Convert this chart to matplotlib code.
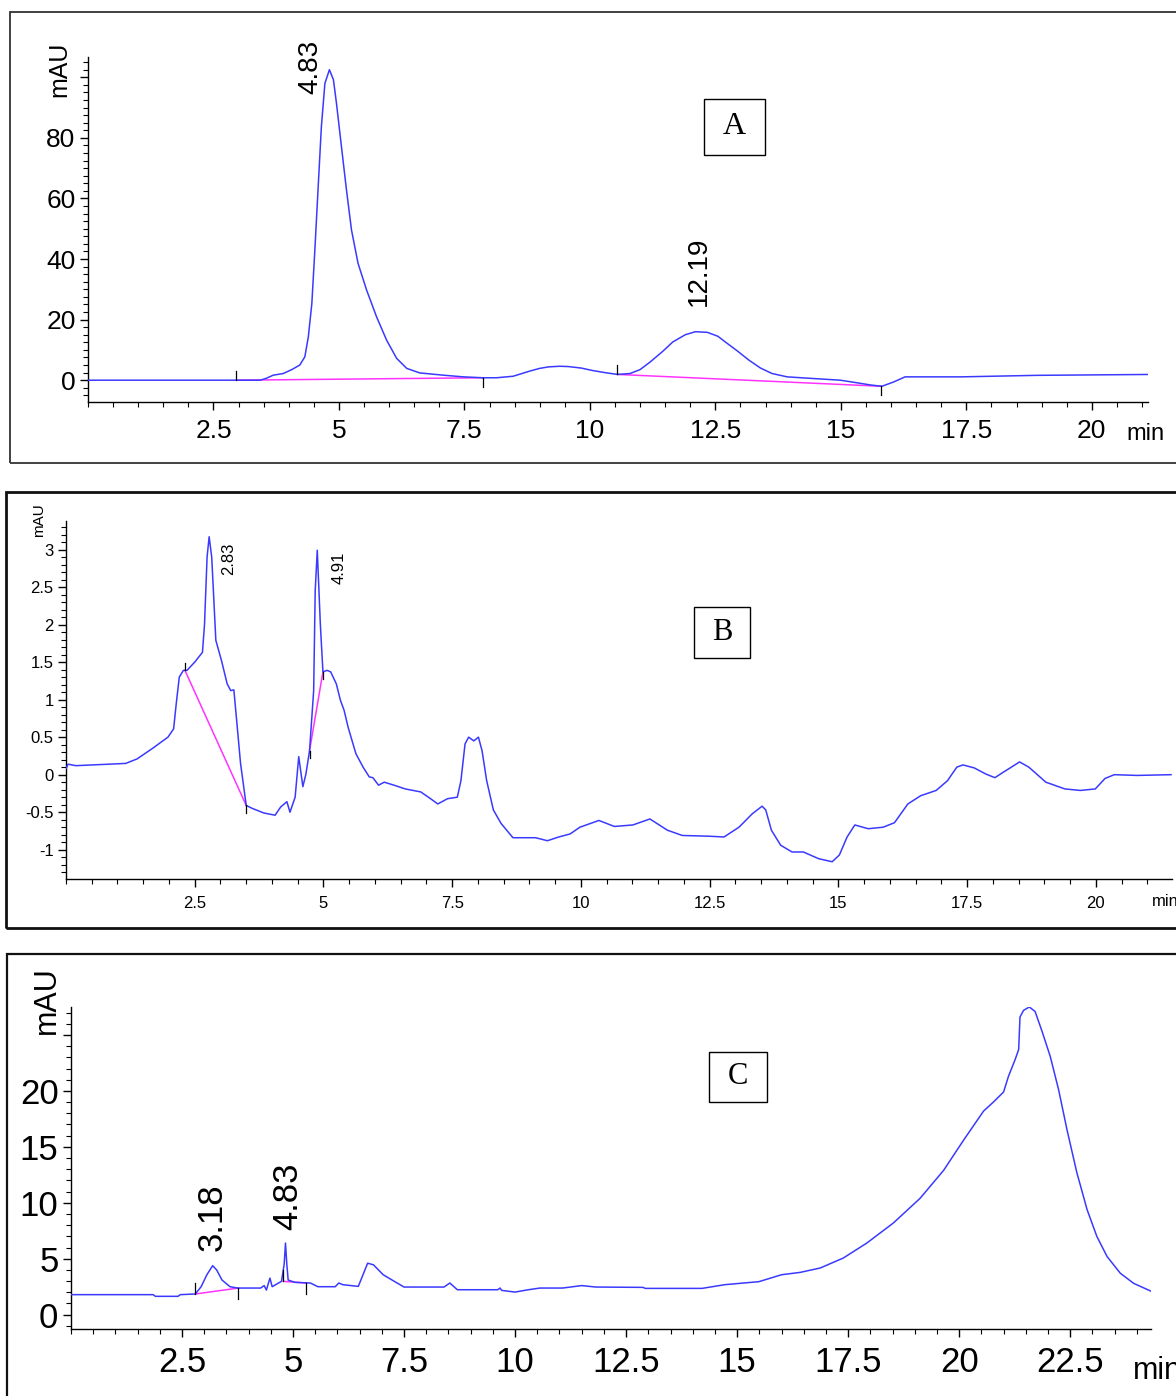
import matplotlib
matplotlib.use('Agg')
import matplotlib.pyplot as plt
import matplotlib.patches as patches
from matplotlib.ticker import MultipleLocator, FixedLocator
import numpy as np

W, H = 1176, 1396

# ---- panel A: chromatogram (min, mAU) ----
t_a = [0, 3.0, 3.43, 3.55, 3.69, 3.89, 4.06, 4.22, 4.32, 4.39, 4.46, 4.52, 4.59,
       4.65, 4.72, 4.81, 4.89, 4.95, 5.05, 5.15, 5.25, 5.38, 5.55, 5.75, 5.95,
       6.15, 6.35, 6.61, 7.08, 7.48, 7.87, 8.14, 8.47, 8.8, 9.0, 9.18, 9.4,
       9.57, 9.83, 10.05, 10.3, 10.55, 10.8, 11.0, 11.2, 11.45, 11.65, 11.9,
       12.1, 12.34, 12.55, 12.7, 12.95, 13.17, 13.4, 13.63, 13.93, 14.5, 14.99,
       15.3, 15.6, 15.82, 16.05, 16.28, 17.4, 18.9, 21.2]
y_a = [0, 0, 0, 0.6, 1.65, 2.2, 3.5, 5.0, 7.7, 14.3, 25.3, 43, 65,
       83.7, 98, 102.5, 99.2, 91.5, 77.1, 62.8, 49.6, 38.6, 29.8, 20.9, 13.2,
       7.2, 3.9, 2.4, 1.65, 1.1, 0.8, 0.8, 1.3, 3.0, 3.9, 4.4, 4.6,
       4.5, 4.0, 3.2, 2.5, 1.9, 2.2, 3.5, 6.0, 9.5, 12.6, 15.0,
       16.0, 15.8, 14.5, 12.6, 9.5, 6.6, 4.0, 2.2, 1.1, 0.5, 0,
       -0.8, -1.6, -2.0, -0.6, 1.1, 1.1, 1.6, 1.9]
ev_a_t = [2.95, 7.87, 10.55, 15.8]
ev_a_y = [0.0, 0.8, 1.9, -2.0]
ev_a_dir = [1, -1, 1, -1]
peaks_a = ['4.83', '12.19']
peak_a_pos = [(4.44, 103.5), (12.17, 36)]

# ---- panel B ----
t_b = [0, 0.04, 0.19, 1.16, 1.38, 1.68, 1.98, 2.09, 2.14, 2.2, 2.28, 2.35, 2.5,
       2.65, 2.69, 2.74, 2.78, 2.83, 2.91, 3.02, 3.13, 3.2, 3.26, 3.32, 3.39,
       3.5, 3.62, 3.84, 4.06, 4.17, 4.29, 4.35, 4.45, 4.52, 4.6, 4.66, 4.73,
       4.81, 4.84, 4.88, 4.94, 4.99, 5.07, 5.14, 5.25, 5.33, 5.4, 5.48, 5.63,
       5.77, 5.89, 5.96, 6.07, 6.18, 6.37, 6.59, 6.89, 7.08, 7.22, 7.41, 7.6,
       7.67, 7.75, 7.82, 7.92, 8.01, 8.08, 8.17, 8.3, 8.45, 8.68, 8.9, 9.12,
       9.35, 9.57, 9.79, 9.98, 10.35, 10.65, 11.01, 11.34, 11.68, 11.97, 12.49,
       12.78, 13.07, 13.33, 13.52, 13.59, 13.7, 13.88, 14.1, 14.32, 14.62,
       14.88, 15.02, 15.17, 15.32, 15.58, 15.87, 16.09, 16.35, 16.6, 16.9,
       17.12, 17.3, 17.42, 17.64, 17.86, 18.04, 18.22, 18.52, 18.7, 19.03,
       19.4, 19.7, 19.99, 20.18, 20.36, 20.8, 21.46]
y_b = [0.08, 0.14, 0.12, 0.15, 0.21, 0.35, 0.5, 0.61, 0.94, 1.3, 1.39, 1.39, 1.5,
       1.63, 2.0, 2.9, 3.17, 2.9, 1.79, 1.52, 1.21, 1.12, 1.13, 0.68, 0.15,
       -0.41, -0.45, -0.51, -0.54, -0.43, -0.36, -0.5, -0.3, 0.24, -0.16, 0.01, 0.32,
       1.12, 2.45, 2.99, 2.0, 1.37, 1.39, 1.37, 1.21, 0.99, 0.86, 0.63, 0.28,
       0.1, -0.03, -0.04, -0.14, -0.1, -0.14, -0.19, -0.23, -0.32, -0.39, -0.32, -0.3,
       -0.08, 0.41, 0.5, 0.45, 0.5, 0.32, -0.08, -0.47, -0.65, -0.84, -0.84, -0.84,
       -0.88, -0.83, -0.79, -0.7, -0.61, -0.69, -0.67, -0.59, -0.74, -0.81, -0.82,
       -0.83, -0.7, -0.52, -0.42, -0.47, -0.74, -0.94, -1.03, -1.03, -1.12,
       -1.16, -1.07, -0.83, -0.67, -0.72, -0.7, -0.64, -0.39, -0.28, -0.21,
       -0.08, 0.1, 0.13, 0.09, 0.01, -0.04, 0.04, 0.17, 0.1, -0.1,
       -0.19, -0.21, -0.19, -0.05, 0.0, -0.01, 0.0]
ev_b_t = [2.31, 3.5, 4.73, 4.99]
ev_b_y = [1.39, -0.41, 0.32, 1.37]
ev_b_dir = [1, -1, -1, -1]
peaks_b = ['2.83', '4.91']
peak_b_pos = [(3.16, 2.87), (5.3, 2.75)]

# ---- panel C ----
t_c = [0, 1.85, 1.9, 2.41, 2.46, 2.8, 2.93, 3.06, 3.19, 3.28, 3.4, 3.58, 3.75,
       4.27, 4.35, 4.4, 4.48, 4.53, 4.74, 4.8, 4.83, 4.86, 4.89, 5.04, 5.39,
       5.56, 5.95, 6.03, 6.12, 6.47, 6.68, 6.81, 7.03, 7.28, 7.5, 8.4, 8.53,
       8.7, 9.61, 9.66, 9.7, 10.0, 10.3, 10.56, 11.07, 11.5, 11.82, 12.88,
       12.93, 14.21, 14.72, 15.49, 16.0, 16.42, 16.87, 17.39, 17.92, 18.52,
       19.12, 19.65, 20.1, 20.55, 20.77, 21.0, 21.11, 21.26, 21.34, 21.37,
       21.45, 21.58, 21.71, 21.86, 22.05, 22.24, 22.43, 22.65, 22.88, 23.1,
       23.33, 23.63, 23.93, 24.32]
y_c = [1.79, 1.79, 1.64, 1.64, 1.79, 1.85, 2.5, 3.57, 4.38, 4.0, 3.1, 2.5, 2.38,
       2.38, 2.6, 2.2, 3.27, 2.5, 2.98, 4.5, 6.4, 4.5, 3.1, 2.89, 2.83,
       2.5, 2.5, 2.83, 2.68, 2.53, 4.6, 4.46, 3.57, 2.98, 2.47, 2.47, 2.83,
       2.23, 2.23, 2.38, 2.17, 2.02, 2.23, 2.38, 2.38, 2.6, 2.47, 2.44,
       2.35, 2.35, 2.68, 2.95, 3.57, 3.78, 4.17, 5.06, 6.4, 8.2,
       10.4, 12.9, 15.6, 18.2, 19.0, 19.9, 21.3, 22.8, 23.7, 26.6,
       27.2, 27.5, 27.1, 25.4, 23.1, 20.1, 16.5, 12.7, 9.4, 7.0,
       5.2, 3.7, 2.8, 2.1]
ev_c_t = [2.8, 3.77, 4.78, 5.3]
ev_c_y = [1.85, 2.38, 2.98, 2.83]
ev_c_dir = [1, -1, 1, -1]
peaks_c = ['3.18', '4.83']
peak_c_pos = [(3.19, 8.7), (4.88, 10.6)]

LINE = '#3a3aff'
BASE = '#ff33ff'


def fig_rect(l, t, r, b):
    return [l / W, 1 - b / H, (r - l) / W, (b - t) / H]


def frame(fig, l, t, r, b, lw=1.5, color='#222222'):
    fig.add_artist(patches.Rectangle((l / W, 1 - b / H), (r - l) / W, (b - t) / H,
                                     transform=fig.transFigure, fill=False,
                                     edgecolor=color, linewidth=lw))


def tag(fig, letter, l, t, r, b, size):
    fig.add_artist(patches.Rectangle((l / W, 1 - b / H), (r - l) / W, (b - t) / H,
                                     transform=fig.transFigure, fill=False,
                                     edgecolor='black', linewidth=1.0))
    fig.text((l + r) / 2 / W, 1 - (t + b) / 2 / H, letter, ha='center', va='center',
             fontsize=size, family='Liberation Serif')


def panel(ax, t, y, ev_t, ev_y, ev_dir, ev_len, xlim, ylim, ymaj, ymin_step,
          yticks_lab, fs, lw=1.1):
    ax.plot(t, y, color=LINE, lw=lw, zorder=3)
    # integration baselines
    for i in range(0, len(ev_t), 2):
        ax.plot(ev_t[i:i + 2], ev_y[i:i + 2], color=BASE, lw=lw, zorder=2)
    for tt, yy, d in zip(ev_t, ev_y, ev_dir):
        ax.plot([tt, tt], [yy, yy + d * ev_len], color='black', lw=0.9, zorder=4)
    ax.set_xlim(*xlim)
    ax.set_ylim(*ylim)
    for s in ['top', 'right']:
        ax.spines[s].set_visible(False)
    for s in ['left', 'bottom']:
        ax.spines[s].set_linewidth(1.0)
    ax.xaxis.set_major_locator(FixedLocator(np.arange(2.5, xlim[1], 2.5)))
    ax.xaxis.set_minor_locator(MultipleLocator(0.5))
    ax.yaxis.set_major_locator(FixedLocator(ymaj))
    ax.yaxis.set_minor_locator(MultipleLocator(ymin_step))
    ax.set_yticklabels(yticks_lab)
    ax.set_xticklabels(['%g' % v for v in np.arange(2.5, xlim[1], 2.5)])
    ax.tick_params(which='major', length=6, width=1.0, labelsize=fs, pad=3)
    ax.tick_params(which='minor', length=3.5, width=0.8)
    ax.tick_params(axis='x', which='major', pad=6)
    for lab in ax.get_xticklabels() + ax.get_yticklabels():
        lab.set_family('Liberation Sans')


fig = plt.figure(figsize=(W / 100, H / 100), dpi=100)
plt.rcParams['font.family'] = ['Liberation Sans', 'DejaVu Sans']

frame(fig, 10, 12, 1200, 463, lw=1.3, color='#333333')
frame(fig, 6, 492, 1200, 928, lw=2.0, color='#111111')
frame(fig, 7, 954, 1200, 1420, lw=1.6, color='#111111')

# A
axa = fig.add_axes(fig_rect(88, 57, 1148, 402))
panel(axa, t_a, y_a, ev_a_t, ev_a_y, ev_a_dir, 3.0, (0, 21.12), (-7.2, 106.7),
      [0, 20, 40, 60, 80, 100], 2.5, ['0', '20', '40', '60', '80', ''], 19)
for lab, (px, py) in zip(peaks_a, peak_a_pos):
    axa.text(px, py, lab, rotation=90, ha='center', va='center', fontsize=20, clip_on=False)
axa.annotate('min', xy=(1, 0), xycoords='axes fraction', xytext=(-22, -32),
             textcoords='offset pixels', ha='left', va='center', fontsize=17)
fig.text(59 / W, 1 - 69 / H, 'mAU', rotation=90, ha='center', va='center', fontsize=18)
tag(fig, 'A', 704, 99, 765, 155, 23)

# B
axb = fig.add_axes(fig_rect(66, 521, 1172, 879))
panel(axb, t_b, y_b, ev_b_t, ev_b_y, ev_b_dir, 0.1, (0, 21.48), (-1.39, 3.38),
      [-1, -0.5, 0, 0.5, 1, 1.5, 2, 2.5, 3], 0.1,
      ['-1', '-0.5', '0', '0.5', '1', '1.5', '2', '2.5', '3'], 12)
for lab, (px, py) in zip(peaks_b, peak_b_pos):
    axb.text(px, py, lab, rotation=90, ha='center', va='center', fontsize=12, clip_on=False)
axb.annotate('min', xy=(1, 0), xycoords='axes fraction', xytext=(-20, -23),
             textcoords='offset pixels', ha='left', va='center', fontsize=12)
fig.text(39 / W, 1 - 520 / H, 'mAU', rotation=90, ha='center', va='center', fontsize=11)
tag(fig, 'B', 694, 607, 750, 658, 22)

# C
axc = fig.add_axes(fig_rect(71, 1007, 1151, 1329))
panel(axc, t_c, y_c, ev_c_t, ev_c_y, ev_c_dir, 1.0, (0, 24.32), (-1.28, 27.5),
      [0, 5, 10, 15, 20, 25], 1, ['0', '5', '10', '15', '20', ''], 25)
for lab, (px, py) in zip(peaks_c, peak_c_pos):
    axc.text(px, py, lab, rotation=90, ha='center', va='center', fontsize=25, clip_on=False)
axc.annotate('min', xy=(1, 0), xycoords='axes fraction', xytext=(-18, -42),
             textcoords='offset pixels', ha='left', va='center', fontsize=22)
fig.text(47 / W, 1 - 1000 / H, 'mAU', rotation=90, ha='center', va='center', fontsize=22)
tag(fig, 'C', 709, 1052, 767, 1102, 22)

fig.savefig('out.png', dpi=100)
